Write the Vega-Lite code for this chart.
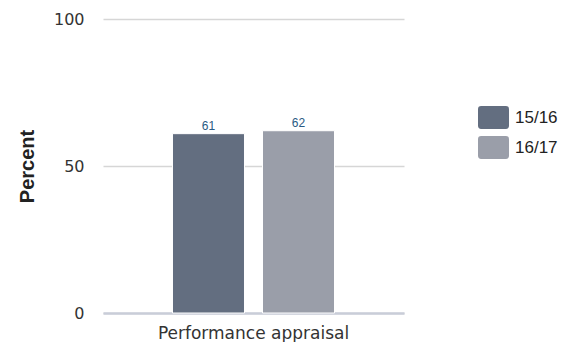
{
  "$schema": "https://vega.github.io/schema/vega-lite/v6.json",
  "autosize": "none",
  "padding": {"left": 103, "top": 19, "right": 170, "bottom": 29},
  "width": 301,
  "height": 294,
  "config": {"view": {"stroke": null}},
  "data": {
    "values": [
      {"item": "Performance appraisal", "period": "15/16", "percent": 61},
      {"item": "Performance appraisal", "period": "16/17", "percent": 62}
    ]
  },
  "encoding": {
    "x": {
      "field": "item",
      "type": "nominal",
      "scale": {"paddingOuter": 0.429, "paddingInner": 0},
      "axis": {
        "title": null,
        "labelAngle": 0,
        "labelLimit": 0,
        "labelFont": "DejaVu Sans",
        "labelFontSize": 17,
        "labelColor": "#333333",
        "labelPadding": 12,
        "ticks": false,
        "domain": true,
        "domainColor": "#c9cdd8",
        "domainWidth": 2.5,
        "grid": false
      }
    },
    "xOffset": {
      "field": "period",
      "type": "nominal",
      "scale": {"paddingInner": 0.2, "paddingOuter": 0}
    },
    "y": {
      "field": "percent",
      "type": "quantitative",
      "scale": {"domain": [0, 100], "nice": false},
      "axis": {
        "title": "Percent",
        "titleFont": "Liberation Sans",
        "titleFontSize": 20,
        "titleFontWeight": "bold",
        "titleColor": "#222222",
        "titlePadding": 16,
        "values": [0, 50, 100],
        "labelFont": "DejaVu Sans",
        "labelFontSize": 16,
        "labelColor": "#333333",
        "labelPadding": 19,
        "ticks": false,
        "domain": false,
        "grid": true,
        "gridColor": "#d6d6d6",
        "gridWidth": 1.5
      }
    }
  },
  "layer": [
    {
      "mark": {"type": "bar", "stroke": "white", "strokeWidth": 1},
      "encoding": {
        "color": {
          "field": "period",
          "type": "nominal",
          "scale": {"range": ["#636e80", "#9a9ea9"]},
          "legend": {
            "title": null,
            "orient": "none",
            "legendX": 375,
            "legendY": 83,
            "padding": 0,
            "symbolType": "M-0.8,-0.74L0.8,-0.74Q1,-0.74 1,-0.54L1,0.54Q1,0.74 0.8,0.74L-0.8,0.74Q-1,0.74 -1,0.54L-1,-0.54Q-1,-0.74 -0.8,-0.74Z",
            "symbolSize": 961,
            "symbolStrokeWidth": 0,
            "symbolOpacity": 1,
            "labelFont": "Liberation Sans",
            "labelFontSize": 17,
            "labelColor": "#222222",
            "labelOffset": 6,
            "rowPadding": 3
          }
        }
      }
    },
    {
      "mark": {
        "type": "text",
        "baseline": "bottom",
        "dy": -1,
        "font": "Liberation Sans",
        "fontSize": 12,
        "color": "#2a5a83"
      },
      "encoding": {
        "text": {"field": "percent", "type": "quantitative"}
      }
    }
  ]
}
